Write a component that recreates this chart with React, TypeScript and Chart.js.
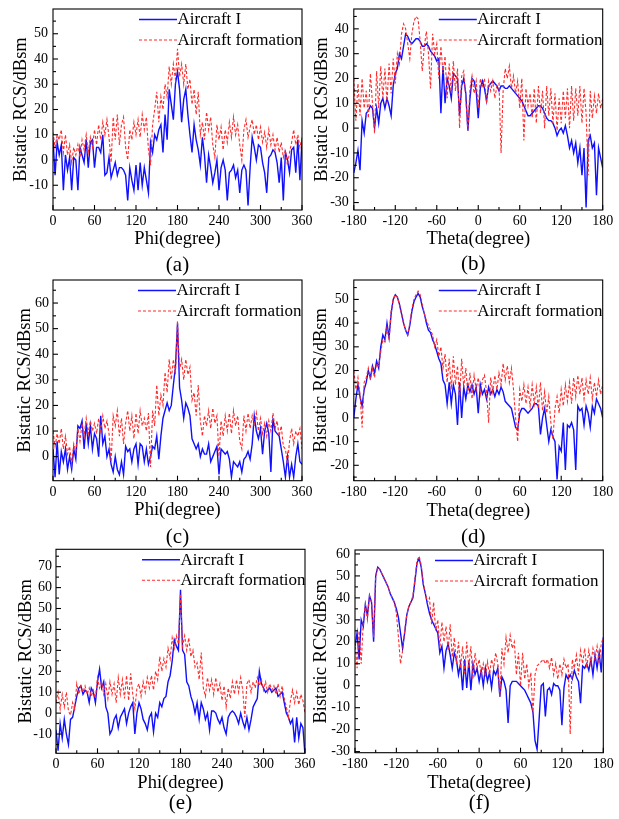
import React, { useEffect, useRef } from "react";
import { Chart, registerables } from "chart.js";

Chart.register(...registerables);

const SERIF = "'Liberation Serif', 'Times New Roman', Times, serif";

// Sampling grid of the angle axes (degrees)
const PHI_START = 0;
const THETA_START = -180;
const ANGLE_STEP = 3;

const phiTicks = [0, 60, 120, 180, 240, 300, 360];
const thetaTicks = [-180, -120, -60, 0, 60, 120, 180];

const seriesNames = ["Aircraft I", "Aircraft formation"];
const panelLabels = ["(a)", "(b)", "(c)", "(d)", "(e)", "(f)"];
const xTitles = ["Phi(degree)", "Theta(degree)"];
const yTitle = "Bistatic RCS/dBsm";

// ---------- (a) Phi 0..360 ----------
const aAircraft = [
  8, -6, 7, 2, 6, -12, 2, -4, 1, -12,
  1, 0, -12, 5, 2, -1, 8, -3, 7, 8,
  -3, 5, 5, 3, 10, -6, -5, 1, -7, -4,
  -1, -6, -3, -3, -4, -6, -16, -3, -8, -12,
  -2, -12, -1, -10, -3, -8, -13, 7, 3, 10,
  8, 12, 14, 3, 18, 8, 28, 22, 16, 30,
  35, 28, 15, 24, 28, 18, 10, 3, 14, 8,
  4, -2, 9, 2, -9, 2, -3, -9, -5, 0,
  -12, -3, 0, -4, -16, -5, -4, -2, -7, -4,
  -13, -4, -2, -4, -18, -3, 9, 5, 0, 6,
  5, -1, -5, -13, 1, 2, 4, 3, -1, -9,
  1, -16, 3, 0, -5, 4, 5, -5, 8, -8,
  8,
];
const aFormation = [
  11, 5, 10, 8, 12, 3, 10, 2, 6, -1,
  5, 2, 6, 1, 8, 4, 10, 3, 9, 5,
  12, 6, 14, 8, 15, 10, 16, 9, -1, 17,
  8, 18, 6, 14, 17, 5, 0, 12, 8, 15,
  10, 16, 9, 18, 12, 17, 4, -2, 14, 20,
  27, 15, 25, 20, 30, 25, 37, 30, 38, 32,
  44, 33, 38, 30, 38, 28, 32, 22, 28, 18,
  27, 10, 15, 8, 19, 12, 17, 6, 1, 14,
  8, 13, 4, 12, 7, 15, 9, 17, 10, 14,
  6, 0, 12, 16, 9, 13, 16, 10, 14, 8,
  13, 7, 11, 5, 12, 6, 10, 4, 9, 3,
  7, 1, 4, -2, 3, 7, 12, 6, 10, 5,
  9,
];

// ---------- (b) Theta -180..180 ----------
const bAircraft = [
  -18, -14, -9, -17, 3, -2, 6, 7, 9, 8,
  0, 8, 2, 10, 12, 8, 12, 9, 5, 17,
  22, 24, 30, 28, 33, 38, 37, 35, 34, 35,
  36, 36, 35, 33, 33, 34, 33, 31, 30, 29,
  27, 28, 6, 25, 10, 20, 17, 12, 22, 21,
  20, 5, 17, 20, 14, -1, 12, 20, 19, 15,
  4, 16, 19, 16, 11, 17, 18, 19, 18, 17,
  15, 17, 17, 16, 16, 17, 16, 15, 14, 13,
  12, 11, 9, 7, 5, 5, 6, 7, 8, 9,
  9, 8, 6, 4, 3, 3, 2, 0, -3, -1,
  0, -2, 1, -3, -8, -5, -10, -6, -14, -8,
  -19, -8, -32, -5, -3, -8, -6, -27, -8, -12,
  -16,
];
const bFormation = [
  20, 3, 18, 5, 20, 8, 15, 4, 22, 10,
  -2, 23, 8, 25, 12, 24, 10, 26, 14, 28,
  18, 30, 26, 38, 42, 40, 34, 28, 38, 43,
  45, 44, 35, 23, 33, 39, 30, 16, 38, 30,
  34, 20, 33, 22, 29, 12, 26, 14, 27, 15,
  24, 0, 21, 23, 12, -1, 16, 21, 14, 19,
  8, 20, 17, 20, 10, 19, 15, 19, 12, 17,
  18, -10, 15, 24, 20, 25, 16, 21, 14, 19,
  8, 20, -5, 16, 9, 14, 4, 16, 2, 17,
  6, 15, 0, 17, 5, 16, 2, 14, -1, 12,
  2, 15, 4, 16, 0, 17, 3, 16, 5, 17,
  2, 16, 6, -19, 15, 4, 13, 6, 14, 8,
  12,
];

// ---------- (c) Phi 0..360 ----------
const cAircraft = [
  3, -8, 6, -7, 2, -2, 3, -5, 0, -5,
  3, -1, 12, 11, 14, 3, 13, 5, 12, 3,
  9, 7, 0, 16, 5, 8, 0, 3, -3, -6,
  0, -5, -7, -2, -7, 4, 2, 3, -2, 3,
  5, -3, 5, 4, -2, 3, -3, 0, 4, 3,
  8, -1, 8, 15, 18, 21, 18, 20, 28, 35,
  52, 27, 22, 15, 21, 19, 16, 7, 5, 3,
  5, 0, 3, 1, 1, 5, -2, 0, 2, 4,
  -7, 3, 2, 1, 2, -1, -8, -2, -3, -4,
  -2, -6, -1, 0, 2, -1, 5, 16, 10, 7,
  11, 1, 10, 13, 9, -6, 15, 10, 9, 8,
  3, -2, -8, 0, -8, -3, -8, 0, 5, -2,
  -3,
];
const cFormation = [
  10, 4, 9, 5, 11, 3, 8, 1, 4, -3,
  5, 2, 11, 6, 13, 8, 15, 9, 14, 10,
  13, 9, 15, 10, 16, 11, 14, 9, -2, 16,
  12, 18, 8, 15, 5, 13, 18, 10, 16, 7,
  17, 9, 18, 12, 15, 10, 17, -4, 18, 12,
  28, 16, 24, 20, 33, 25, 38, 30, 38, 32,
  53, 34, 38, 30, 38, 32, 35, 22, 25, 16,
  28, 14, 8, 16, 12, 18, 11, 19, 13, 16,
  0, 14, 8, 16, 10, 17, 9, 18, 12, 16,
  6, 3, 16, 10, 17, 11, 16, 12, 17, 10,
  15, 9, 13, 8, 14, 10, 17, 11, 14, 8,
  12, 4, 3, -3, 6, 11, 5, 10, 8, 11,
  3,
];

// ---------- (d) Theta -180..180 ----------
const dAircraft = [
  0, 8, 14, 9, 5, 12, 15, 20, 17, 22,
  19, 24, 21, 30, 35, 33, 40, 34, 44, 50,
  52, 51, 48, 44, 40, 37, 35, 39, 45, 49,
  51, 52.5, 51, 47, 44, 40, 37, 36, 33, 31,
  28, 25, 23, 16, 14, 6, 15, 6, 14, 10,
  -3, 15, 0, 13, 8, 14, 11, 14, 10, 13,
  2, 14, 10, 12, 8, 13, 10, 12, 9, 12,
  10, 13, 11, 7, 6, 5, 4, 0, -4, -5,
  2, 4, 4, 3, 2, 3, 4, 6, 6, 5,
  -7, 0, 4, -3, -10, -5, -8, -10, -26, -12,
  -14, -2, -22, -3, -4, -2, -5, -22, 5, 3,
  4, -3, 5, 2, -4, 5, 2, 8, 6, 4,
  0,
];
const dFormation = [
  20, 12, 17, 10, -4, 15, 17, 21, 16, 21,
  17, 23, 22, 28, 33, 32, 38, 33, 45, 50,
  52, 51, 48, 44, 40, 37, 35, 40, 46, 50,
  52, 53.5, 52, 48, 44, 41, 39, 37, 35, 30,
  33, 26, 30, 21, 27, 15, 25, 12, 26, 14,
  22, 8, 25, 13, 21, 10, 19, 8, 18, 12,
  17, 10, 16, 18, 11, -2, 17, 11, 18, 12,
  19, 14, 23, 16, 22, 15, 21, 12, 0, -10,
  12, 7, 14, 6, 13, 5, 14, 6, 13, 4,
  15, 3, 11, 2, 9, -2, -9, 4, 9, 2,
  12, 5, 14, 7, 15, 6, 17, 9, 18, 10,
  17, 8, 16, 10, 17, 8, 15, 9, 16, 10,
  14,
];

// ---------- (e) Phi 0..360 ----------
const eAircraft = [
  -8, -18, -5, -12, -3, -10, -15, -3, -2, 3,
  8, 12, 13, 9, 11, 10, 5, 12, 10, 5,
  15, 21, 12, 15, 3, 0, -10, -8, -3, -1,
  -7, -2, 0, 2, -5, 0, 3, 5, -10, 0,
  5, 2, -3, -5, -8, -2, 0, -9, 0, -2,
  5, 3, 7, 8, 15, 18, 25, 35, 32, 30,
  59, 30, 28, 15, 13, 8, 5, 0, 5, -3,
  5, 2, -3, 0, -8, 1, 1, 0, -3, -5,
  -2, -7, -10, -2, 0, 1, 0, -2, -5, 0,
  -4, -7, -2, -8, -3, 3, 5, 7, 20, 14,
  12, 10, 11, 12, 10, 11, 12, 8, 9, 10,
  5, 0, -2, -5, -3, -14, -2, -12, -5, -7,
  -20,
];
const eFormation = [
  5, 10, 2, 9, 3, 10, 1, -1, 5, 2,
  14, 9, 13, 10, 13, 9, 12, 8, 11, 7,
  17, 12, 15, 9, 14, 7, 15, 9, 14, 5,
  17, 9, 16, 7, 18, 6, 19, 9, 2, 12,
  14, 8, 15, 10, 17, 12, 18, 11, 20, 16,
  27, 20, 26, 22, 31, 26, 36, 31, 37, 33,
  57, 32, 37, 30, 36, 27, 30, 22, 24, 16,
  29, 12, 8, 17, 11, 16, 9, 17, 10, 14,
  6, 13, 3, 12, 7, 15, 9, 16, 10, 17,
  11, -2, 14, 16, 10, 15, 12, 17, 13, 16,
  11, 15, 10, 14, 11, 13, 9, 14, 8, 13,
  7, 3, -2, 6, 11, 5, 10, 4, 9, 6,
  0,
];

// ---------- (f) Theta -180..180 ----------
const fAircraft = [
  18, 24, 12, 30, 27, 37, 32, 41, 38, 20,
  50, 54, 53, 51, 49, 47, 45, 42, 40, 38,
  35, 31, 24, 17, 24, 32, 36, 38, 40, 48,
  56, 58, 54, 46, 42, 37, 33, 30, 28, 26,
  24, 15, 18, 8, 16, 19, 14, 8, 15, 12,
  5, 10, -2, 12, -1, 11, -2, 10, 5, 8,
  2, 7, 0, 8, 2, 6, -1, 7, 5, 8,
  -5, 4, 2, -2, -17, 0, 2, 2, 2, 1,
  0, -1, -2, -4, -6, -8, -12, -25, -29, -15,
  0, 1, -14, -2, -1, -4, 1, 0, 0, -2,
  -18, -1, 5, 3, 5, 3, 7, 4, 2, -8,
  9, 8, 10, 7, 12, 5, 14, 8, 15, 6,
  22,
];
const fFormation = [
  20, 8, 25, 10, 29, 37, 30, 41, 38, 22,
  50, 54, 53, 51, 49, 47, 45, 42, 40, 38,
  33, 22, 10, 16, 25, 32, 36, 38, 41, 49,
  57, 59, 55, 47, 42, 38, 40, 28, 38, 25,
  30, 17, 29, 20, 27, 16, 28, 13, 22, 10,
  20, 8, 18, 5, 20, 8, 18, 3, 15, 8,
  12, 5, 10, 4, 11, 5, 12, 8, 15, 10,
  -5, 17, 10, 22, 15, 23, 17, 20, 5, 15,
  0, 15, 3, 10, 0, 6, -13, 5, 9, 10,
  11, 12, 10, 12, 8, 13, 5, 10, 3, 10,
  5, 12, 8, 10, -22, 12, 8, 14, 5, 16,
  10, 17, 8, 16, 10, 17, 12, 18, 10, 19,
  22,
];

// y-axis ranges (dBsm)
const yRanges: [number, number][] = [
  [-19.8, 59.8],
  [-33, 48],
  [-9.4, 69],
  [-26.5, 58.2],
  [-19.2, 78.3],
  [-30.5, 61.8],
];

type Panel = {
  label: string;
  kind: 0 | 1; // 0 = phi, 1 = theta
  blue: number[];
  red: number[];
  yr: [number, number];
  box: { left: number; top: number; w: number; h: number };
  area: { l: number; r: number; t: number; b: number };
  yTitleX: number;
  xTitleY: number;
  labelDx: number;
  labelDy: number;
  legendDx: number;
  yPad: number;
};

const panels: Panel[] = [
  { label: panelLabels[0], kind: 0, blue: aAircraft, red: aFormation, yr: yRanges[0],
    box: { left: 0, top: 0, w: 320, h: 280 }, area: { l: 53, r: 302, t: 9, b: 210 },
    yTitleX: 21, xTitleY: 239, labelDx: 0, labelDy: 55, legendDx: 86, yPad: 5 },
  { label: panelLabels[1], kind: 1, blue: bAircraft, red: bFormation, yr: yRanges[1],
    box: { left: 305, top: 0, w: 314, h: 280 }, area: { l: 353.8, r: 602.7, t: 9, b: 210 },
    yTitleX: 321.7, xTitleY: 239, labelDx: -5, labelDy: 54, legendDx: 85, yPad: 5 },
  { label: panelLabels[2], kind: 0, blue: cAircraft, red: cFormation, yr: yRanges[2],
    box: { left: 0, top: 270, w: 320, h: 280 }, area: { l: 53, r: 302, t: 280, b: 480.7 },
    yTitleX: 25, xTitleY: 510.5, labelDx: 0, labelDy: 57, legendDx: 85, yPad: 4 },
  { label: panelLabels[3], kind: 1, blue: dAircraft, red: dFormation, yr: yRanges[3],
    box: { left: 305, top: 270, w: 314, h: 280 }, area: { l: 353.8, r: 602.7, t: 280, b: 480.7 },
    yTitleX: 320.8, xTitleY: 511, labelDx: -5, labelDy: 57, legendDx: 85, yPad: 5 },
  { label: panelLabels[4], kind: 0, blue: eAircraft, red: eFormation, yr: yRanges[4],
    box: { left: 0, top: 540, w: 320, h: 279 }, area: { l: 56, r: 305, t: 549.3, b: 753.3 },
    yTitleX: 26.5, xTitleY: 783, labelDx: 0, labelDy: 50, legendDx: 86, yPad: 4 },
  { label: panelLabels[5], kind: 1, blue: fAircraft, red: fFormation, yr: yRanges[5],
    box: { left: 305, top: 540, w: 314, h: 279 }, area: { l: 355, r: 603.3, t: 550, b: 752.7 },
    yTitleX: 320.8, xTitleY: 783.5, labelDx: 0, labelDy: 50.5, legendDx: 80, yPad: 5 },
];

const X_AXIS_H = 40;
const TITLE_SIZE = 18.5;
const TITLE_LH = TITLE_SIZE * 1.2;
const TICK_SIZE = 14;

const decorPlugin = {
  id: "decor",
  afterDraw(chart: any) {
    const { ctx, chartArea: a } = chart;
    const opts = chart.options.plugins.decor;
    const xs = chart.scales.x;
    const ys = chart.scales.y;
    ctx.save();
    ctx.setLineDash([]);
    ctx.strokeStyle = "#000";
    ctx.lineWidth = 1.1;
    ctx.strokeRect(a.left, a.top, a.right - a.left, a.bottom - a.top);
    // inward ticks, bottom axis
    for (let v = xs.min; v <= xs.max + 1e-6; v += 30) {
      const px = xs.getPixelForValue(v);
      const len = Math.abs(v % 60) < 1e-6 ? 5 : 3;
      ctx.beginPath();
      ctx.moveTo(px, a.bottom);
      ctx.lineTo(px, a.bottom - len);
      ctx.stroke();
    }
    // inward ticks, left axis
    for (let v = Math.ceil(ys.min / 5) * 5; v <= ys.max + 1e-6; v += 5) {
      const py = ys.getPixelForValue(v);
      const len = v % 10 === 0 ? 5 : 3;
      ctx.beginPath();
      ctx.moveTo(a.left, py);
      ctx.lineTo(a.left + len, py);
      ctx.stroke();
    }
    // legend inside plot
    ctx.font = `17px ${SERIF}`;
    ctx.textBaseline = "middle";
    ctx.textAlign = "left";
    ctx.fillStyle = "#000";
    const rows = [10.5, 31];
    chart.data.datasets.forEach((ds: any, i: number) => {
      const y = a.top + rows[i];
      const x0 = a.left + opts.legendDx;
      ctx.strokeStyle = ds.borderColor;
      ctx.lineWidth = ds.borderWidth;
      ctx.setLineDash(ds.borderDash || []);
      ctx.beginPath();
      ctx.moveTo(x0, y);
      ctx.lineTo(x0 + 38, y);
      ctx.stroke();
      ctx.setLineDash([]);
      ctx.fillText(ds.label, x0 + 38.5, y + 0.5);
    });
    // panel label
    ctx.font = `21px ${SERIF}`;
    ctx.textAlign = "center";
    ctx.fillText(opts.label, (a.left + a.right) / 2 + opts.labelDx, a.bottom + opts.labelDy);
    ctx.restore();
  },
};

function toPoints(vals: number[], start: number) {
  return vals.map((v, i) => ({ x: start + i * ANGLE_STEP, y: v }));
}

function PanelChart({ p }: { p: Panel }) {
  const ref = useRef<HTMLCanvasElement>(null);
  useEffect(() => {
    const canvas = ref.current;
    if (!canvas) return;
    const { box, area } = p;
    const yWidth = area.l - box.left;
    const padRight = box.left + box.w - area.r;
    const padTop = area.t - box.top;
    const padBottom = box.top + box.h - area.b - X_AXIS_H;
    const yTitlePad = p.yTitleX - box.left - TITLE_LH / 2;
    const xTitlePad = area.b + X_AXIS_H - p.xTitleY - TITLE_LH / 2;
    const start = p.kind === 0 ? PHI_START : THETA_START;
    const xt = p.kind === 0 ? phiTicks : thetaTicks;
    const yTickVals: number[] = [];
    for (let v = Math.ceil(p.yr[0] / 10) * 10; v <= p.yr[1]; v += 10) yTickVals.push(v);

    const chart = new Chart(canvas, {
      type: "line",
      data: {
        datasets: [
          {
            label: seriesNames[0],
            data: toPoints(p.blue, start),
            borderColor: "#1010ff",
            borderWidth: 1.4,
            pointRadius: 0,
            tension: 0,
            order: 1,
          },
          {
            label: seriesNames[1],
            data: toPoints(p.red, start),
            borderColor: "#ff2a2a",
            borderWidth: 1.1,
            borderDash: [3, 2],
            pointRadius: 0,
            tension: 0,
            order: 0,
          },
        ],
      },
      options: {
        animation: false,
        responsive: false,
        devicePixelRatio: 1,
        layout: { padding: { left: 0, right: padRight, top: padTop, bottom: padBottom } },
        events: [],
        plugins: {
          legend: { display: false },
          tooltip: { enabled: false },
          decor: { label: p.label, labelDx: p.labelDx, labelDy: p.labelDy, legendDx: p.legendDx },
        } as any,
        scales: {
          x: {
            type: "linear",
            min: xt[0],
            max: xt[xt.length - 1],
            grid: { display: false, drawTicks: false },
            border: { display: false },
            afterBuildTicks: (s: any) => {
              s.ticks = xt.map((v) => ({ value: v }));
            },
            afterFit: (s: any) => {
              s.height = X_AXIS_H;
              s.paddingLeft = 0;
              s.paddingRight = 0;
            },
            ticks: {
              autoSkip: false,
              maxRotation: 0,
              padding: 3,
              color: "#000",
              font: { family: SERIF, size: TICK_SIZE },
            },
            title: {
              display: true,
              text: xTitles[p.kind],
              color: "#000",
              font: { family: SERIF, size: TITLE_SIZE },
              padding: { top: 0, bottom: xTitlePad },
            },
          },
          y: {
            type: "linear",
            min: p.yr[0],
            max: p.yr[1],
            grid: { display: false, drawTicks: false },
            border: { display: false },
            afterBuildTicks: (s: any) => {
              s.ticks = yTickVals.map((v) => ({ value: v }));
            },
            afterFit: (s: any) => {
              s.width = yWidth;
              s.paddingTop = 0;
              s.paddingBottom = 0;
            },
            ticks: {
              autoSkip: false,
              padding: p.yPad,
              color: "#000",
              font: { family: SERIF, size: TICK_SIZE },
            },
            title: {
              display: true,
              text: yTitle,
              color: "#000",
              font: { family: SERIF, size: TITLE_SIZE },
              padding: { top: yTitlePad, bottom: 0 },
            },
          },
        },
      },
      plugins: [decorPlugin as any],
    });
    return () => chart.destroy();
  }, [p]);

  return (
    <canvas
      ref={ref}
      width={p.box.w}
      height={p.box.h}
      style={{
        position: "absolute",
        left: p.box.left,
        top: p.box.top,
        width: p.box.w,
        height: p.box.h,
      }}
    />
  );
}

export default function App() {
  return (
    <div style={{ position: "absolute", left: 0, top: 0, width: 619, height: 819, background: "#fff", overflow: "hidden" }}>
      {panels.map((p) => (
        <PanelChart key={p.label} p={p} />
      ))}
    </div>
  );
}
